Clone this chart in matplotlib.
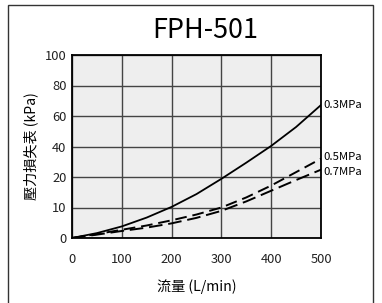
import numpy as np
import matplotlib
matplotlib.use('Agg')
import matplotlib.pyplot as plt
from matplotlib.patches import Rectangle

plt.rcParams['font.family'] = ['Noto Sans CJK TC', 'DejaVu Sans']

# flow (L/min) and pressure loss (kPa)
flow = [0, 50, 100, 150, 200, 250, 300, 350, 400, 450, 500]
loss_03 = [0, 1.6, 3.8, 6.7, 10.2, 14.4, 19.4, 29.4, 40.4, 52.8, 67.2]
loss_05 = [0, 1.3, 2.7, 4.1, 5.8, 7.7, 10, 13.3, 17.2, 23.2, 32]
loss_07 = [0, 1.1, 2.3, 3.4, 4.8, 6.6, 8.9, 12, 15.5, 19, 24.8]
series_labels = ['0.3MPa', '0.5MPa', '0.7MPa']
x_ticks = [0, 100, 200, 300, 400, 500]
y_ticks = [0, 10, 20, 40, 60, 80, 100]

# piecewise axis: 0-20 at 10 per grid, 20-100 at 20 per grid
yk = [0, 20, 100]
tk = [0, 2, 6]


def fwd(y):
    return np.interp(y, yk, tk)


def inv(t):
    return np.interp(t, tk, yk)


fig = plt.figure(figsize=(3.82, 3.03), dpi=100)
ax = fig.add_axes([72 / 382, 1 - 238 / 303, 249 / 382, 183 / 303])
ax.set_yscale('function', functions=(fwd, inv))
ax.set_facecolor('#eeeeee')

ax.plot(flow, loss_03, color='black', lw=1.3, zorder=3)
ax.plot(flow, loss_05, color='black', lw=1.4, dashes=(6, 3), zorder=3)
ax.plot(flow, loss_07, color='black', lw=1.4, dashes=(7, 3), zorder=3)

ax.set_xlim(0, 500)
ax.set_ylim(0, 100)
ax.set_xticks(x_ticks)
ax.set_yticks(y_ticks)
ax.set_yticklabels([str(v) for v in y_ticks])
ax.minorticks_off()
ax.tick_params(length=0, labelsize=9.3, colors='#222222')
ax.tick_params(axis='x', pad=11)
ax.tick_params(axis='y', pad=4)
ax.grid(True, color='#444444', lw=1)
ax.set_axisbelow(True)
for s in ax.spines.values():
    s.set_color('black')
    s.set_linewidth(1.3)

ax.set_xlabel('流量 (L/min)', fontsize=10.2, labelpad=9)
ax.set_ylabel('壓力損失表 (kPa)', fontsize=10.2, labelpad=5)

# labels at the line ends
ends = [loss_03[-1], loss_05[-1], loss_07[-1]]
nudge = [0, 1.5, -1.5]
for lab, yv, dy in zip(series_labels, ends, nudge):
    ax.annotate(lab, xy=(500, yv), xytext=(1.5, dy), textcoords='offset points',
                va='center', ha='left', fontsize=8.2, annotation_clip=False)

fig.text(205 / 382, 1 - 30 / 303, 'FPH-501', ha='center', va='center', fontsize=19.4)

# outer frame (open at bottom)
fig.patches.append(Rectangle((8 / 382, -0.05), 365 / 382, 1.05 - 5 / 303,
                             transform=fig.transFigure, fill=False,
                             edgecolor='#333333', lw=1))

fig.savefig('out.png', dpi=100)
